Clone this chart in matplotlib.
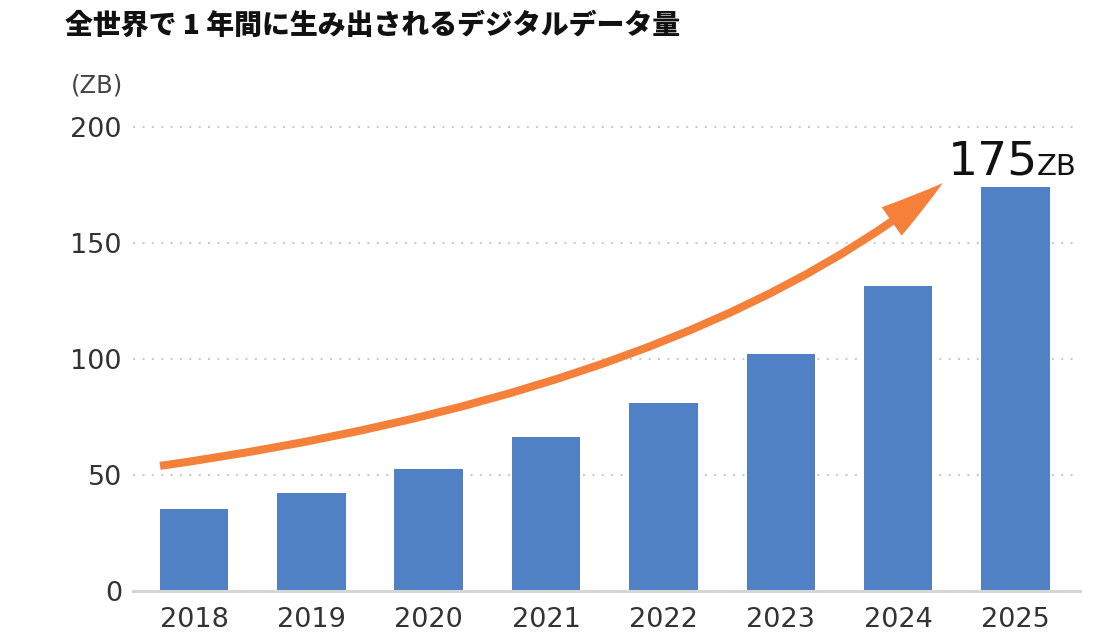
import matplotlib

matplotlib.use("Agg")
import matplotlib.pyplot as plt
from matplotlib.patches import FancyArrowPatch
from matplotlib.path import Path

plt.rcParams["font.family"] = ["DejaVu Sans", "Noto Sans CJK JP"]

years = ["2018", "2019", "2020", "2021", "2022", "2023", "2024", "2025"]
zettabytes = [35.2, 42.1, 52.5, 66.4, 80.8, 102, 131.3, 174]
y_ticks = [0, 50, 100, 150, 200]

title = "全世界で 1 年間に生み出されるデジタルデータ量"
unit_label = "(ZB)"
peak_label = "175"
peak_unit = "ZB"

# growth arrow: start, bezier control, tip (bar index, ZB)
arrow_pts = [(-0.29, 53.8), (4.2, 86.0), (6.38, 175.7)]

bar_color = "#5081c4"
arrow_color = "#f5803a"
text_color = "#333333"

fig = plt.figure(figsize=(11.2, 6.4), dpi=100)
ax = fig.add_axes([0.1188, 0.077, 0.8455, 0.725])

xs = list(range(len(years)))
ax.bar(xs, zettabytes, width=0.584, color=bar_color, zorder=2)

ax.set_xlim(-0.52, 7.55)
ax.set_ylim(0, 200)
ax.set_yticks(y_ticks)
ax.set_xticks(xs)
ax.set_xticklabels(years)
for y in y_ticks[1:]:
    ax.axhline(y, color="#cccccc", lw=1.5, linestyle=(0, (1, 3.5)), zorder=1, clip_on=False)

for side in ["top", "right", "left"]:
    ax.spines[side].set_visible(False)
ax.spines["bottom"].set_color("#d6d6d6")
ax.spines["bottom"].set_linewidth(2.2)
ax.spines["bottom"].set_zorder(3)
ax.tick_params(axis="both", length=0, labelsize=19.5, colors=text_color)
ax.tick_params(axis="x", pad=12)
ax.tick_params(axis="y", pad=8)

arrow_path = Path(arrow_pts, [Path.MOVETO, Path.CURVE3, Path.CURVE3])
arrow = FancyArrowPatch(
    path=arrow_path,
    arrowstyle="simple,head_length=46,head_width=25,tail_width=5.8",
    mutation_scale=1,
    color=arrow_color,
    lw=0,
    zorder=4,
    clip_on=False,
)
ax.add_patch(arrow)

ax.annotate(peak_label, xy=(xs[-1], zettabytes[-1]), xytext=(-48.5, 9),
            textcoords="offset points", fontsize=34, color="#111111",
            ha="left", va="baseline", annotation_clip=False)
ax.annotate(peak_unit, xy=(xs[-1], zettabytes[-1]), xytext=(15.5, 9),
            textcoords="offset points", fontsize=21, color="#111111",
            ha="left", va="baseline", annotation_clip=False)

fig.text(65 / 1120, 1 - 25 / 640, title, fontsize=20.1, fontweight="heavy",
         color="#111111", ha="left", va="center",
         family=["Noto Sans CJK JP", "DejaVu Sans"])
fig.text(71 / 1120, 1 - 85 / 640, unit_label, fontsize=17.5, color="#444444",
         ha="left", va="center")

fig.savefig("out.png", dpi=100)
plt.close(fig)
